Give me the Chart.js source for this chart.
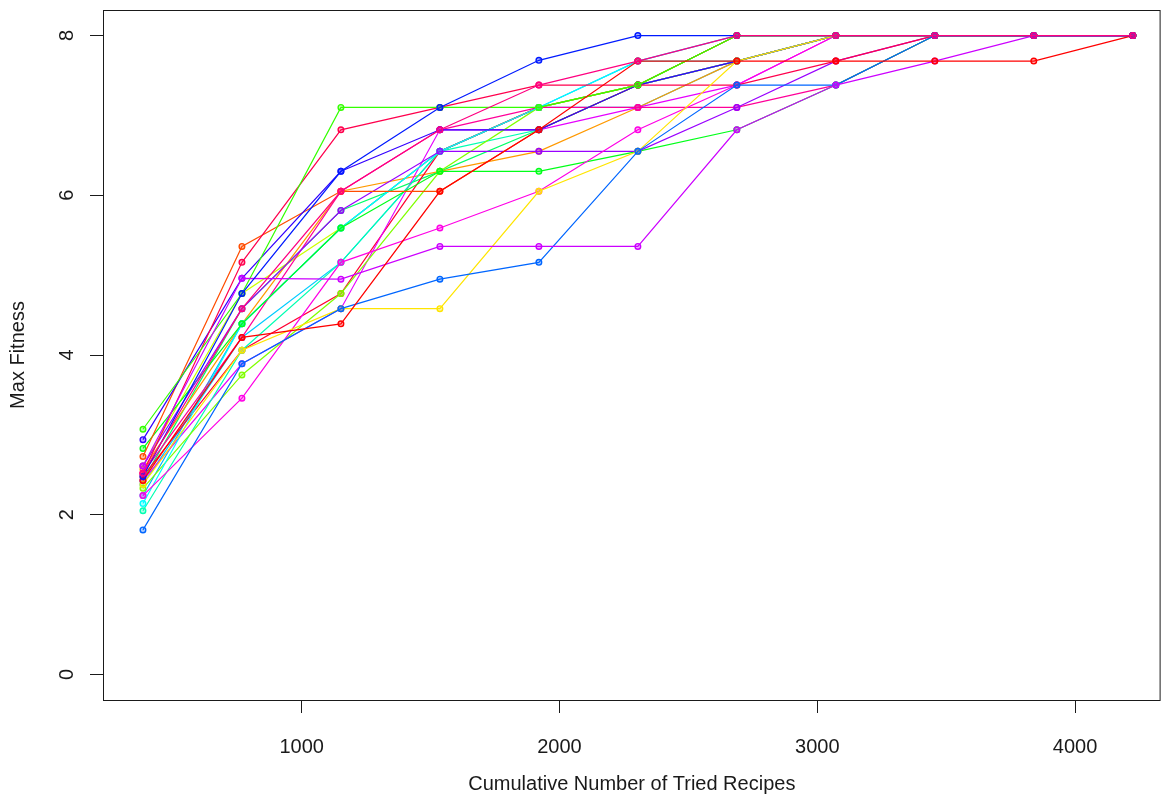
<!DOCTYPE html>
<html>
<head>
<meta charset="utf-8">
<script src="https://cdn.jsdelivr.net/npm/chart.js@4"></script>
<style>
  html, body { margin: 0; padding: 0; background: #fff; }
  #wrap { width: 1166px; height: 796px; position: relative; }
</style>
</head>
<body>
<div id="wrap"><canvas id="c"></canvas></div>
<script>
// max fitness per run vs cumulative tried recipes
const TRIED = [384, 768, 1152, 1536, 1920, 2304, 2688, 3072, 3456, 3840, 4224];
const X_TICKS = [1000, 2000, 3000, 4000];
const Y_TICKS = [0, 2, 4, 6, 8];

// one array per run (index 0 is drawn on top)
const run01 = [2.52, 4.58, 6.05, 6.82, 7.38, 7.68, 8, 8, 8, 8, 8];
const run02 = [2.48, 4.77, 6.30, 7.10, 7.69, 8, 8, 8, 8, 8, 8];
const run03 = [2.43, 4.22, 4.39, 6.05, 6.82, 7.68, 7.68, 7.68, 7.68, 7.68, 8];
const run04 = [2.61, 4.96, 4.95, 5.36, 5.36, 5.36, 6.82, 7.38, 7.68, 8, 8];
const run05 = [1.81, 3.89, 4.58, 4.95, 5.16, 6.55, 7.38, 7.38, 8, 8, 8];
const run06 = [2.38, 4.06, 4.58, 4.58, 6.05, 6.55, 7.68, 8, 8, 8, 8];
const run07 = [3.07, 4.77, 7.10, 7.10, 7.10, 7.38, 8, 8, 8, 8, 8];
const run08 = [2.52, 5.16, 6.82, 7.10, 7.38, 7.38, 7.38, 7.68, 8, 8, 8];
const run09 = [2.94, 4.96, 6.30, 6.82, 6.82, 7.38, 7.68, 8, 8, 8, 8];
const run10 = [2.73, 5.36, 6.05, 6.05, 6.82, 7.38, 8, 8, 8, 8, 8];
const run11 = [2.24, 3.46, 5.16, 5.59, 6.05, 6.82, 7.38, 8, 8, 8, 8];
const run12 = [2.61, 4.58, 5.81, 6.55, 6.55, 6.55, 7.10, 7.68, 8, 8, 8];
const run13 = [2.83, 4.39, 5.59, 6.30, 6.30, 6.55, 6.82, 7.38, 8, 8, 8];
const run14 = [2.14, 4.39, 5.59, 6.55, 7.10, 7.68, 7.68, 8, 8, 8, 8];
const run15 = [2.33, 3.75, 4.77, 6.30, 7.10, 7.38, 8, 8, 8, 8, 8];
const run16 = [2.05, 4.06, 5.16, 6.55, 6.82, 7.38, 7.68, 8, 8, 8, 8];
const run17 = [2.52, 4.22, 6.05, 6.82, 7.10, 7.10, 7.10, 7.38, 8, 8, 8];
const run18 = [2.43, 3.89, 4.58, 6.82, 6.82, 7.10, 7.38, 8, 8, 8, 8];
const run19 = [2.48, 4.06, 4.77, 6.55, 7.10, 7.38, 7.68, 8, 8, 8, 8];
const run20 = [2.24, 4.39, 5.59, 6.55, 7.10, 7.68, 8, 8, 8, 8, 8];
const run21 = [2.57, 4.39, 6.05, 6.30, 6.55, 7.10, 7.68, 8, 8, 8, 8];
const run22 = [2.43, 4.58, 5.81, 6.30, 6.82, 7.38, 8, 8, 8, 8, 8];
const run23 = [2.61, 4.77, 5.59, 6.55, 7.10, 7.38, 7.68, 8, 8, 8, 8];
const run24 = [2.38, 4.22, 5.16, 6.55, 7.10, 7.10, 7.68, 8, 8, 8, 8];

const RUNS = [run01, run02, run03, run04, run05, run06, run07, run08, run09, run10, run11, run12,
              run13, run14, run15, run16, run17, run18, run19, run20, run21, run22, run23, run24];
const COLORS = ['#FF0080', '#001AFF', '#FF0000', '#CC00FF', '#0066FF', '#FFE500', '#33FF00',
                '#FF004D', '#3300FF', '#FF4D00', '#FF00E6', '#9900FF', '#00FF19', '#00FFFF',
                '#80FF00', '#00FFB2', '#FF0099', '#E600FF', '#FF0033', '#00B3FF',
                '#FF9900', '#00FF66', '#CCFF00', '#00CCFF'];

const FONT = '"Liberation Sans", Arial, sans-serif';
const INK = '#1a1a1a';

const datasets = RUNS.map((vals, i) => ({
  data: vals.map((v, k) => ({ x: TRIED[k], y: v })),
  borderColor: COLORS[i],
  backgroundColor: COLORS[i] + '55',
  pointBorderColor: COLORS[i],
  pointBackgroundColor: COLORS[i] + '55',
  borderWidth: 1.2,
  pointRadius: 2.8,
  pointBorderWidth: 1.4,
  tension: 0,
}));

// R-style box + rotated y tick labels
const boxPlugin = {
  id: 'rbox',
  afterDraw(chart) {
    const { ctx, chartArea: a } = chart;
    const y = chart.scales.y;
    ctx.save();
    ctx.strokeStyle = INK;
    ctx.lineWidth = 1;
    ctx.strokeRect(a.left + 0.5, a.top + 0.5, a.right - a.left - 1, a.bottom - a.top);
    ctx.fillStyle = INK;
    ctx.font = '20px ' + FONT;
    ctx.textAlign = 'center';
    ctx.textBaseline = 'middle';
    for (const t of Y_TICKS) {
      const py = y.getPixelForValue(t);
      ctx.save();
      ctx.translate(67, py);
      ctx.rotate(-Math.PI / 2);
      ctx.fillText(String(t), 0, 0);
      ctx.restore();
    }
    ctx.restore();
  }
};

new Chart(document.getElementById('c'), {
  type: 'line',
  data: { datasets },
  plugins: [boxPlugin],
  options: {
    responsive: true,
    maintainAspectRatio: false,
    animation: false,
    layout: { padding: { top: 10, right: 1, left: 0, bottom: 0 } },
    plugins: { legend: { display: false }, tooltip: { enabled: false } },
    scales: {
      x: {
        type: 'linear',
        min: 229, max: 4332,
        afterBuildTicks: s => { s.ticks = X_TICKS.map(v => ({ value: v })); },
        afterFit: s => { s.height = 96; },
        grid: { drawOnChartArea: false, tickLength: 13, color: INK, tickColor: INK },
        border: { display: false },
        ticks: { color: INK, padding: 22, maxRotation: 0, font: { family: FONT, size: 20 },
                 callback: v => String(v) },
        title: { display: true, text: 'Cumulative Number of Tried Recipes', color: INK,
                 padding: { top: 0, bottom: 0 }, font: { family: FONT, size: 20 } }
      },
      y: {
        min: -0.32, max: 8.32,
        afterBuildTicks: s => { s.ticks = Y_TICKS.map(v => ({ value: v })); },
        afterFit: s => { s.width = 103; },
        grid: { drawOnChartArea: false, tickLength: 13, color: INK, tickColor: INK },
        border: { display: false },
        ticks: { display: false },
        title: { display: true, text: 'Max Fitness', color: INK,
                 padding: { top: 6, bottom: 0 }, font: { family: FONT, size: 20 } }
      }
    }
  }
});
</script>
</body>
</html>
